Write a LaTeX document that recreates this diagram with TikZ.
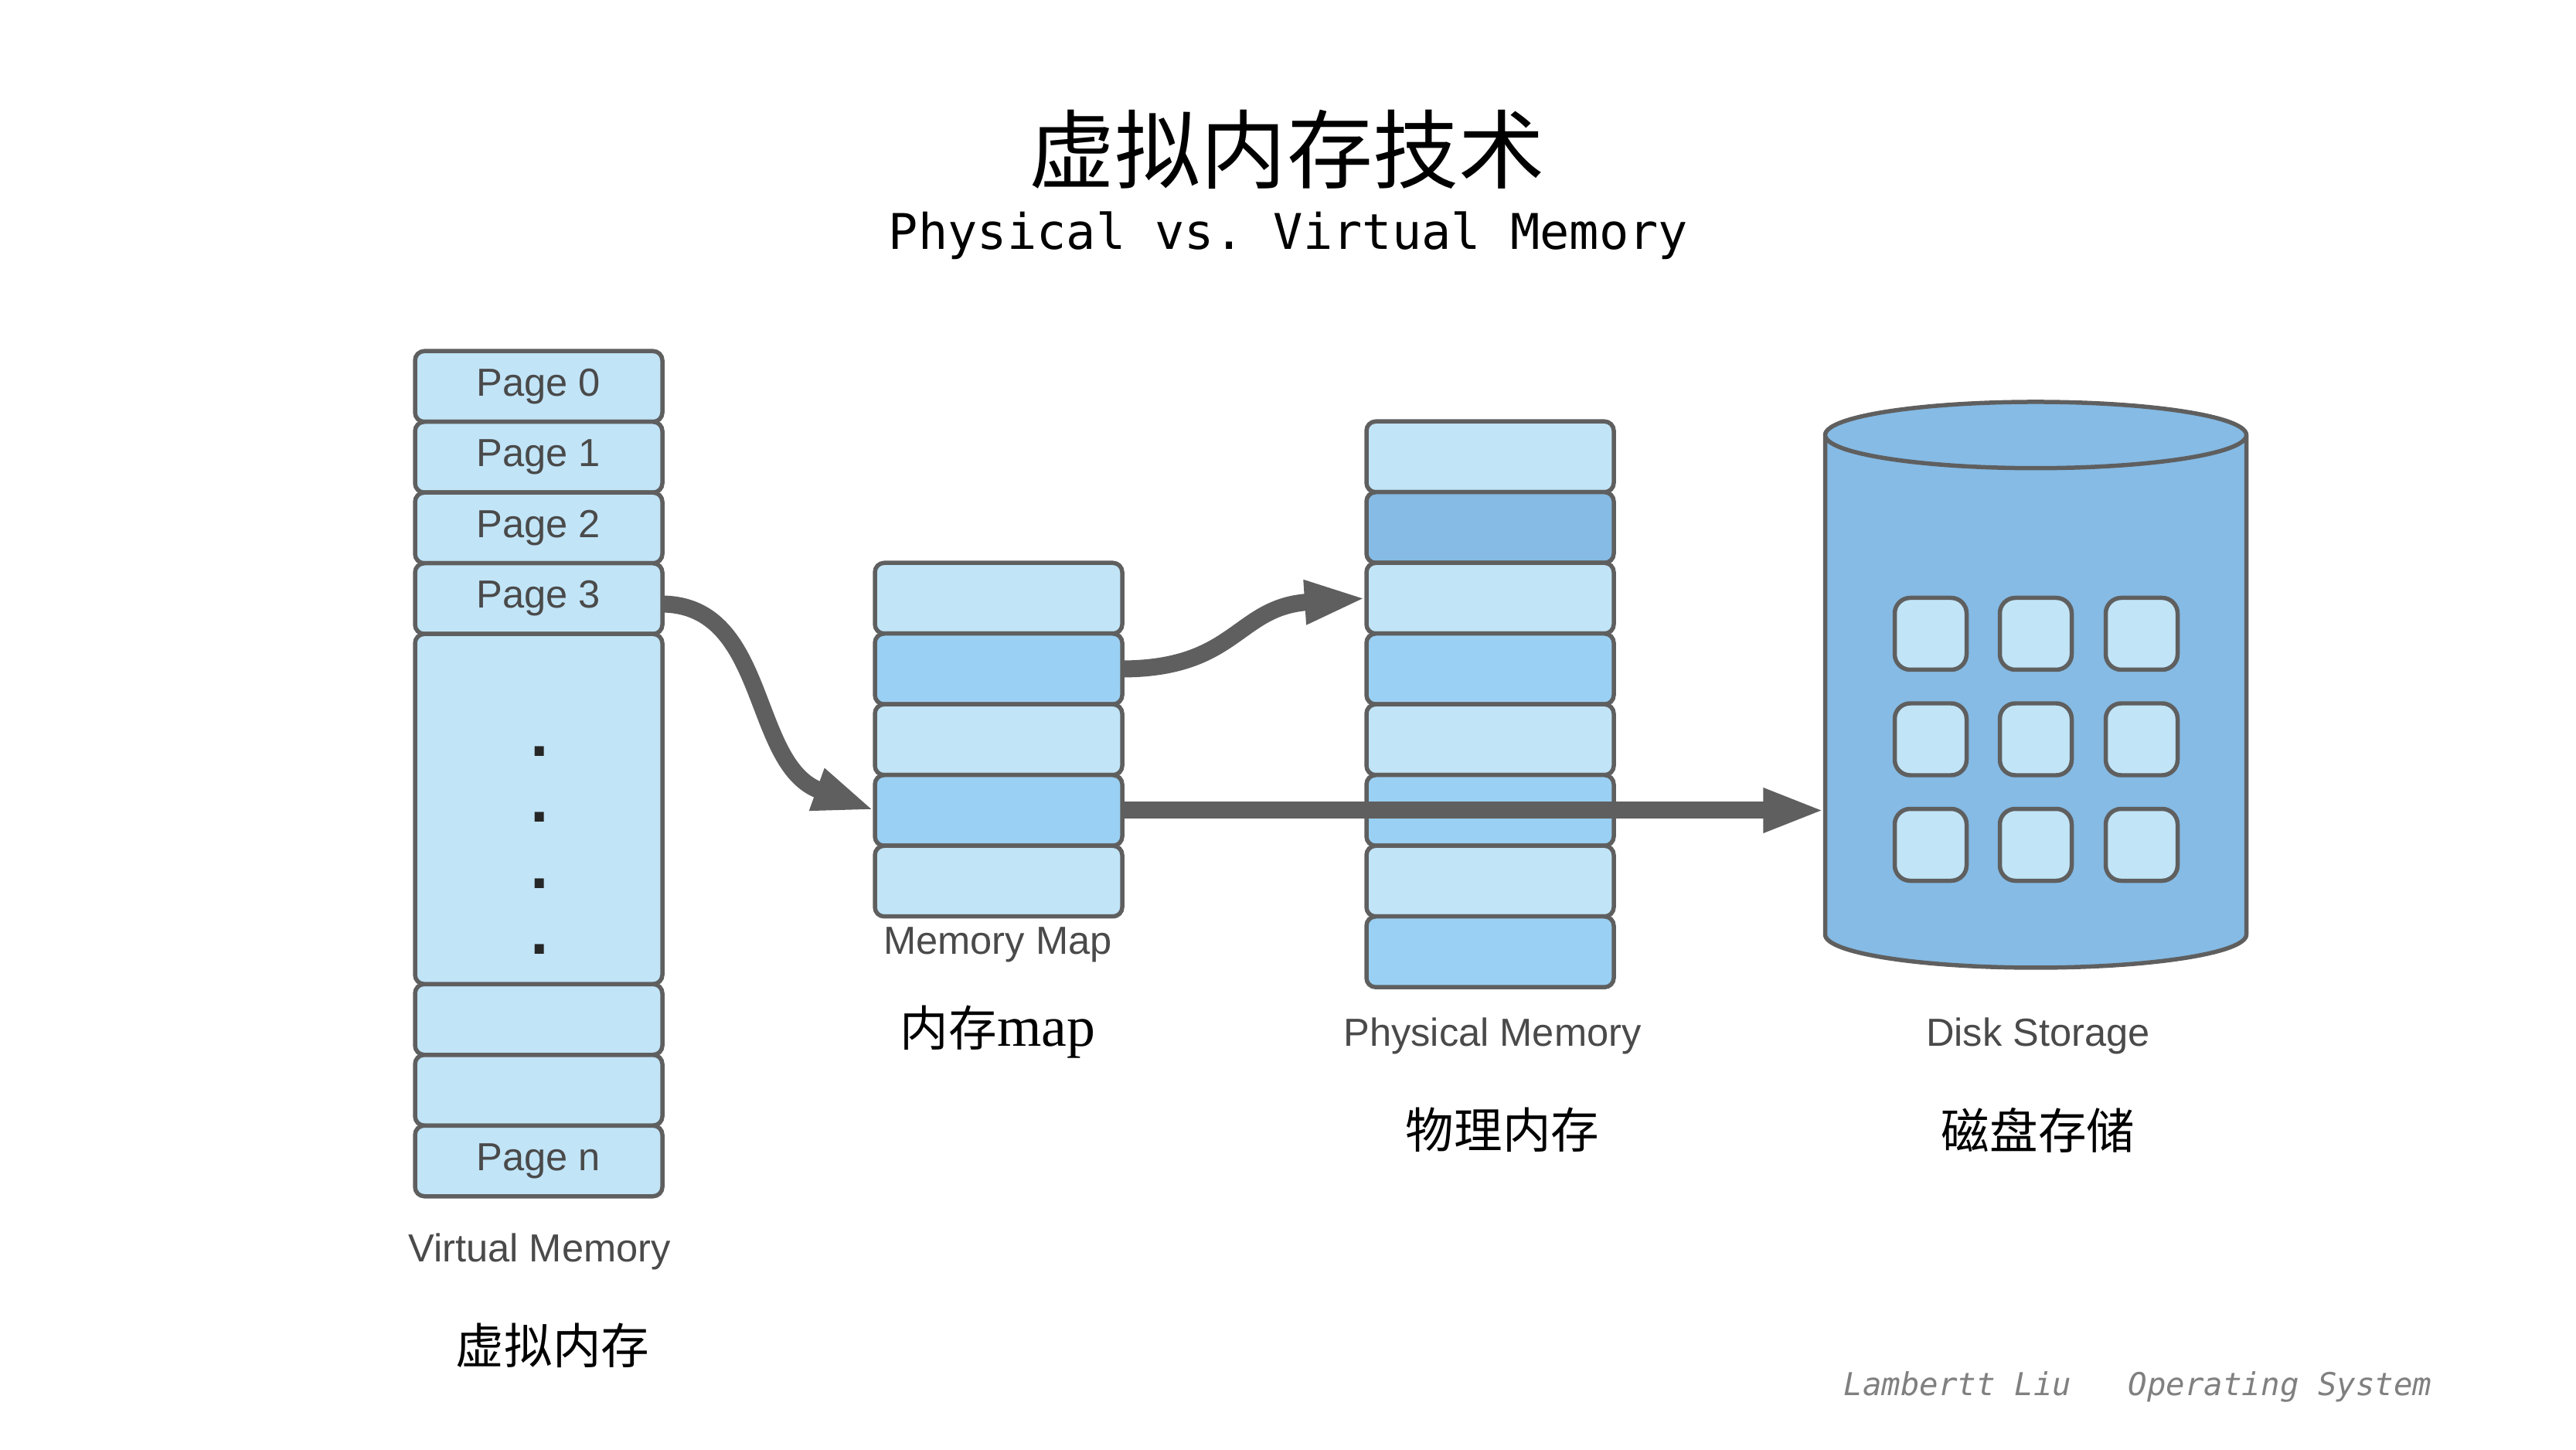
\documentclass[tikz,border=0pt]{standalone}
\usepackage{fontspec}
\setmainfont{Liberation Sans}
\setmonofont{DejaVu Sans Mono}
\newfontfamily\cjk{Noto Sans CJK SC}
\newfontfamily\romanmap{Liberation Serif}
\usepackage{xcolor}
\usetikzlibrary{shapes.geometric, arrows.meta, positioning}
\definecolor{edgegray}{HTML}{5F5F5F}
\definecolor{labelgray}{HTML}{4A4A4A}
\definecolor{cellpale}{HTML}{C1E4F7}
\definecolor{cellmid}{HTML}{9AD0F3}
\definecolor{celldeep}{HTML}{85BBE5}
\tikzstyle{arrow} = [line width=0.22cm, draw=edgegray, -{Triangle[length=0.8cm,width=0.52cm]}]
\tikzstyle{cell} = [rectangle, draw=edgegray, line width=0.055cm, rounded corners=0.12cm, minimum width=3.2cm, minimum height=0.915cm, outer sep=0pt, inner sep=0pt, fill=cellpale, text=labelgray, font=\fontsize{14.4}{17}\selectfont]
\tikzstyle{slot} = [rectangle, draw=edgegray, line width=0.055cm, rounded corners=0.2cm, minimum width=0.93cm, minimum height=0.93cm, fill=cellpale]
\tikzstyle{caption} = [text=labelgray, font=\fontsize{14.4}{17}\selectfont]
\tikzstyle{cjklabel} = [text=black, font=\cjk\fontsize{17.8}{21}\selectfont]
\begin{document}
\begin{tikzpicture}
    \useasboundingbox (0,0) rectangle (33.33,18.75);
    % title
    \node (title) at (16.65,16.82) [font=\cjk\fontsize{31.6}{38}\selectfont] {虚拟内存技术};
    \node (subtitle) at (16.67,15.70) [font=\ttfamily\fontsize{18.1}{22}\selectfont] {Physical vs. Virtual Memory};

    % virtual memory
    \node (vpage0) at (6.97,13.75) [cell] {Page 0};
    \node (vpage1) [cell, below=0pt of vpage0] {Page 1};
    \node (vpage2) [cell, below=0pt of vpage1] {Page 2};
    \node (vpage3) [cell, below=0pt of vpage2] {Page 3};
    \node (vgap)   [cell, below=0pt of vpage3, minimum height=4.53cm] {};
    \node (vpage4) [cell, below=0pt of vgap] {};
    \node (vpage5) [cell, below=0pt of vpage4] {};
    \node (vpagen) [cell, below=0pt of vpage5] {Page n};
    \foreach \i/\y in {0/8.96, 1/8.11, 2/7.26, 3/6.41}
        \node (vdot\i) at (6.98,\y) [anchor=base, inner sep=0pt, text=black!85, font=\bfseries\fontsize{24}{28}\selectfont] {.};
    \node (vlabel) at (6.98,2.56) [caption] {Virtual Memory};
    \node (vcjk)   at (7.15,1.34) [cjklabel] {虚拟内存};

    % memory map
    \node (map0) at (12.92,11.01) [cell] {};
    \node (map1) [cell, fill=cellmid, below=0pt of map0] {};
    \node (map2) [cell, below=0pt of map1] {};
    \node (map3) [cell, fill=cellmid, below=0pt of map2] {};
    \node (map4) [cell, below=0pt of map3] {};
    \node (maplabel) at (12.91,6.53) [caption] {Memory Map};
    \node (mapcjk)   at (12.91,5.40) [cjklabel] {内存{\romanmap\fontsize{21}{25}\selectfont map}};

    % physical memory
    \node (phys0) at (19.28,12.84) [cell] {};
    \node (phys1) [cell, fill=celldeep, below=0pt of phys0] {};
    \node (phys2) [cell, below=0pt of phys1] {};
    \node (phys3) [cell, fill=cellmid, below=0pt of phys2] {};
    \node (phys4) [cell, below=0pt of phys3] {};
    \node (phys5) [cell, fill=cellmid, below=0pt of phys4] {};
    \node (phys6) [cell, below=0pt of phys5] {};
    \node (phys7) [cell, fill=cellmid, below=0pt of phys6] {};
    \node (physlabel) at (19.31,5.35) [caption] {Physical Memory};
    \node (physcjk)   at (19.44,4.13) [cjklabel] {物理内存};

    % disk
    \node (disk) at (26.34,9.60) [cylinder, shape border rotate=90, shape aspect=3.66, draw=edgegray, line width=0.055cm, fill=celldeep, minimum width=5.45cm, minimum height=7.32cm, outer sep=0pt] {};
    \foreach \c/\x in {0/24.98, 1/26.34, 2/27.71}
        \foreach \r/\y in {0/10.55, 1/9.185, 2/7.82}
            \node (slot\c\r) at (\x,\y) [slot] {};
    \node (disklabel) at (26.37,5.35) [caption] {Disk Storage};
    \node (diskcjk)   at (26.37,4.13) [cjklabel] {磁盘存储};

    % connectors
    \coordinate (diskin) at (disk.west |- map3.east);
    \draw [arrow] ([yshift=-0.07cm]vpage3.east) .. controls (9.95,10.92) and (9.70,8.85) .. (map3.west);
    \draw [arrow] (map1.east) .. controls (16.00,10.10) and (16.00,10.90) .. (phys2.west);
    \draw [arrow] (map3.east) -- (diskin);

    \node (footer) at (27.66,0.81) [text=gray, font=\ttfamily\itshape\fontsize{11.6}{14}\selectfont] {Lambertt Liu\ \ \ Operating System};
\end{tikzpicture}
\end{document}
